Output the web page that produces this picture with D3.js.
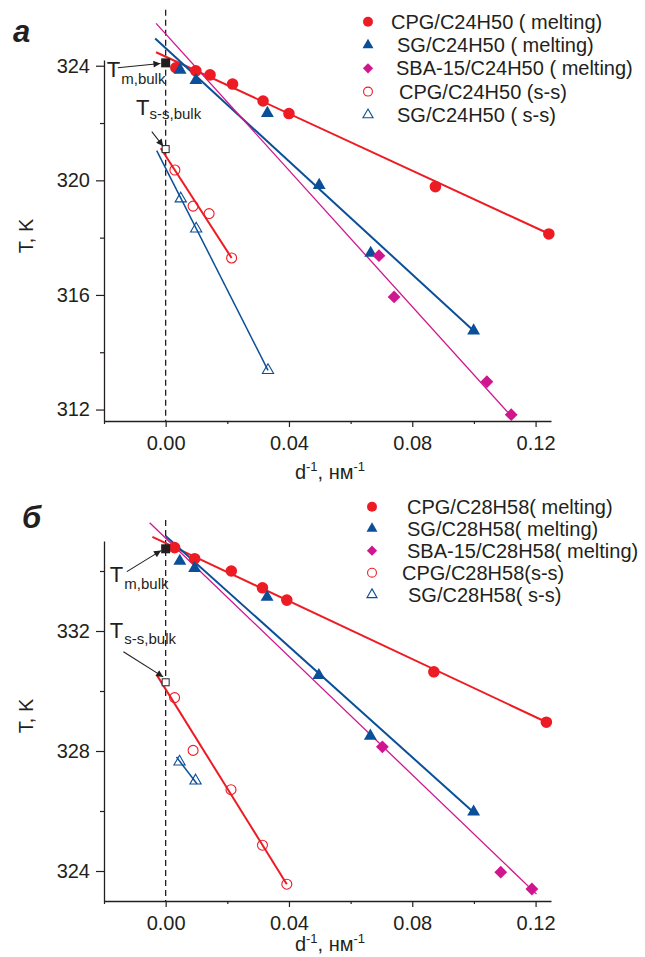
<!DOCTYPE html>
<html>
<head>
<meta charset="utf-8">
<script src="https://cdn.jsdelivr.net/npm/d3@7"></script>
<style>
body { margin: 0; background: #fff; }
svg { display: block; }
text { font-family: "Liberation Sans", Arial, sans-serif; fill: #231f20; }
</style>
</head>
<body>
<svg id="chart" width="645" height="957"></svg>
<script>
// shared x axis ticks
const xMajor = [0, 0.04, 0.08, 0.12];
const xMinor = [-0.02, 0.02, 0.06, 0.10];

// panel а : C24H50
const yMajorA = [312, 316, 320, 324];
const yMinorA = [314, 318, 322];
const cpgMeltA = [[0.0033, 323.93], [0.0098, 323.82], [0.0144, 323.68], [0.0217, 323.36], [0.0316, 322.77], [0.0400, 322.33], [0.0875, 319.78], [0.1243, 318.13]];
const sgMeltA = [[0.0047, 323.85], [0.0098, 323.49], [0.0330, 322.34], [0.0498, 319.83], [0.0665, 317.46], [0.0999, 314.75]];
const sbaMeltA = [[0.0692, 317.37], [0.0741, 315.93], [0.1042, 312.97], [0.1121, 311.82]];
const cpgSsA = [[0.0030, 320.36], [0.0089, 319.10], [0.0141, 318.84], [0.0214, 317.29]];
const sgSsA = [[0.0049, 319.36], [0.0099, 318.31], [0.0332, 313.37]];
// fitted straight lines, end points
const cpgMeltFitA = [[-0.0031, 324.47], [0.125, 318.10]];
const sgMeltFitA = [[-0.0034, 324.95], [0.1006, 314.68]];
const sbaMeltFitA = [[-0.0031, 325.48], [0.1126, 311.71]];
const cpgSsFitA = [[-0.0016, 321.12], [0.0214, 317.29]];
const sgSsFitA = [[-0.0029, 321.04], [0.0332, 313.37]];
const tmBulkA = [0, 324.10];
const tssBulkA = [0, 321.09];
const legendA = ["CPG/C24H50 ( melting)", "SG/C24H50 ( melting)", "SBA-15/C24H50 ( melting)", "CPG/C24H50 (s-s)", "SG/C24H50 ( s-s)"];

// panel б : C28H58
const yMajorB = [324, 328, 332];
const yMinorB = [326, 330, 334];
const cpgMeltB = [[0.0029, 334.78], [0.0094, 334.41], [0.0213, 334.00], [0.0314, 333.44], [0.0393, 333.03], [0.0870, 330.64], [0.1235, 328.96]];
const sgMeltB = [[0.0046, 334.33], [0.0094, 334.09], [0.0329, 333.13], [0.0497, 330.52], [0.0664, 328.50], [0.0999, 325.97]];
const sbaMeltB = [[0.0703, 328.14], [0.1087, 323.96], [0.1188, 323.40]];
const cpgSsB = [[0.0029, 329.78], [0.0089, 328.02], [0.0212, 326.71], [0.0314, 324.86], [0.0393, 323.56]];
const sgSsB = [[0.0045, 327.64], [0.0097, 327.01]];
const cpgMeltFitB = [[-0.0043, 335.14], [0.1248, 328.90]];
const sgMeltFitB = [[0.0000, 335.17], [0.1005, 325.90]];
const sbaMeltFitB = [[-0.0052, 335.61], [0.1203, 323.23]];
const cpgSsFitB = [[-0.0028, 330.52], [0.0393, 323.56]];
const sgSsFitB = [[0.0035, 327.80], [0.0102, 326.90]];
const tmBulkB = [0, 334.74];
const tssBulkB = [0, 330.29];
const legendB = ["CPG/C28H58( melting)", "SG/C28H58( melting)", "SBA-15/C28H58( melting)", "CPG/C28H58(s-s)", "SG/C28H58( s-s)"];

const red = "#ed1c24", blue = "#0b4f98", magenta = "#d0168f", ink = "#231f20";

// order = legend order
const styles = [
  {color: red, shape: "circle", filled: true, lw: 2},
  {color: blue, shape: "triangle", filled: true, lw: 2},
  {color: magenta, shape: "diamond", filled: true, lw: 1.3},
  {color: red, shape: "circle", filled: false, lw: 2},
  {color: blue, shape: "triangle", filled: false, lw: 1.5}
];

const panels = [
  {
    label: "а", labelPos: [13, 42],
    yDomain: [311.6, 324.2], yRange: [421, 60], dashTop: 325.95,
    yMajor: yMajorA, yMinor: yMinorA,
    points: [cpgMeltA, sgMeltA, sbaMeltA, cpgSsA, sgSsA],
    fits: [cpgMeltFitA, sgMeltFitA, sbaMeltFitA, cpgSsFitA, sgSsFitA],
    tm: tmBulkA, tss: tssBulkA,
    notes: [
      {sub: "m,bulk", at: [-0.0191, 323.62], subDx: 1, subDy: 7, from: [-0.0155, 323.93], to: [-0.0017, 324.08]},
      {sub: "s-s,bulk", at: [-0.0096, 322.28], subDx: 0, subDy: 4, from: [-0.0045, 321.70], to: [-0.0008, 321.19]}
    ],
    legend: legendA, legendX: 368, legendY: 21.7, legendStep: 23.3, legendTextX: [391, 397, 396, 399, 397],
    yTitle: [26, 236], xTitleY: 479
  },
  {
    label: "б", labelPos: [22, 528],
    yDomain: [323, 335], yRange: [901, 541], dashTop: 335.7,
    yMajor: yMajorB, yMinor: yMinorB,
    points: [cpgMeltB, sgMeltB, sbaMeltB, cpgSsB, sgSsB],
    fits: [cpgMeltFitB, sgMeltFitB, sbaMeltFitB, cpgSsFitB, sgSsFitB],
    tm: tmBulkB, tss: tssBulkB,
    notes: [
      {sub: "m,bulk", at: [-0.0181, 333.64], subDx: 1, subDy: 7, from: [-0.0126, 333.98], to: [-0.0015, 334.68]},
      {sub: "s-s,bulk", at: [-0.0181, 331.76], subDx: 1, subDy: 6, from: [-0.0137, 331.31], to: [-0.0008, 330.47]}
    ],
    legend: legendB, legendX: 372, legendY: 506.7, legendStep: 22, legendTextX: [407, 407, 407, 402, 408],
    yTitle: [26, 716], xTitleY: 951
  }
];

const svg = d3.select("#chart");

svg.append("defs").append("marker")
  .attr("id", "arrow")
  .attr("viewBox", "0 0 10 10")
  .attr("refX", 10).attr("refY", 5)
  .attr("markerUnits", "userSpaceOnUse")
  .attr("markerWidth", 9).attr("markerHeight", 7)
  .attr("orient", "auto")
  .append("path")
  .attr("d", "M0,0L10,5L0,10z")
  .attr("fill", ink);

const x = d3.scaleLinear().domain([-0.02, 0.125]).range([104, 551]);

function symbolFor(shape, size) {
  if (shape === "circle") return d3.symbol(d3.symbolCircle, size)();
  if (shape === "triangle") return d3.symbol(d3.symbolTriangle, size)();
  return d3.symbol(d3.symbolSquare, size)();
}

function markerSize(st, legend) {
  if (st.shape === "circle") return st.filled ? (legend ? 78 : 105) : (legend ? 62 : 78);
  if (st.shape === "triangle") return st.filled ? (legend ? 52 : 72) : (legend ? 44 : 55);
  return legend ? 52 : 82;
}

function drawMarker(g, st, cx, cy, legend) {
  const p = g.append("path")
    .attr("d", symbolFor(st.shape, markerSize(st, legend)))
    .attr("transform", "translate(" + cx + "," + cy + ")" + (st.shape === "diamond" ? " rotate(45)" : ""));
  if (st.filled) {
    p.attr("fill", st.color);
  } else {
    p.attr("fill", "none").attr("stroke", st.color).attr("stroke-width", 1.1);
  }
}

panels.forEach(panel => {
  const y = d3.scaleLinear().domain(panel.yDomain).range(panel.yRange);
  const g = svg.append("g");
  const bottom = panel.yRange[0];

  // axes
  g.append("g").attr("transform", "translate(0," + bottom + ")")
    .call(d3.axisBottom(x).tickValues(xMajor).tickFormat(d3.format(".2f")).tickSize(6).tickSizeOuter(0).tickPadding(9));
  g.append("g").attr("transform", "translate(0," + bottom + ")")
    .call(d3.axisBottom(x).tickValues(xMinor).tickFormat("").tickSize(3).tickSizeOuter(0))
    .select(".domain").remove();
  g.append("g").attr("transform", "translate(" + x.range()[0] + ",0)")
    .call(d3.axisLeft(y).tickValues(panel.yMajor).tickFormat(d3.format("d")).tickSize(8).tickSizeOuter(0).tickPadding(6));
  g.append("g").attr("transform", "translate(" + x.range()[0] + ",0)")
    .call(d3.axisLeft(y).tickValues(panel.yMinor).tickFormat("").tickSize(4).tickSizeOuter(0))
    .select(".domain").remove();

  g.selectAll(".domain").attr("stroke", ink).attr("stroke-width", 1.3);
  g.selectAll(".tick line").attr("stroke", ink).attr("stroke-width", 1.2);
  g.selectAll(".tick text").attr("font-size", 20).attr("font-family", "Liberation Sans, Arial, sans-serif").attr("fill", ink);

  // dashed line at d = 0
  g.append("line")
    .attr("x1", x(0)).attr("x2", x(0))
    .attr("y1", y(panel.dashTop)).attr("y2", bottom)
    .attr("stroke", ink).attr("stroke-width", 1.3)
    .attr("stroke-dasharray", "6,4");

  // fitted lines
  const line = d3.line().x(d => x(d[0])).y(d => y(d[1]));
  panel.fits.forEach((f, i) => {
    g.append("path").datum(f)
      .attr("d", line)
      .attr("fill", "none")
      .attr("stroke", styles[i].color)
      .attr("stroke-width", styles[i].lw);
  });

  // markers: open ones first, then circles, triangles, diamonds
  [3, 4, 0, 1, 2].forEach(i => {
    panel.points[i].forEach(d => drawMarker(g, styles[i], x(d[0]), y(d[1]), false));
  });

  // bulk values
  g.append("rect")
    .attr("x", x(panel.tm[0]) - 4.5).attr("y", y(panel.tm[1]) - 4.5)
    .attr("width", 9).attr("height", 9)
    .attr("fill", ink);
  g.append("rect")
    .attr("x", x(panel.tss[0]) - 3.5).attr("y", y(panel.tss[1]) - 3.5)
    .attr("width", 7).attr("height", 7)
    .attr("fill", "#fff").attr("stroke", ink).attr("stroke-width", 1);

  // annotations
  panel.notes.forEach(n => {
    const t = g.append("text")
      .attr("x", x(n.at[0])).attr("y", y(n.at[1]))
      .attr("font-size", 22);
    t.append("tspan").text("T");
    t.append("tspan").attr("dx", n.subDx).attr("dy", n.subDy).attr("font-size", 15).text(n.sub);
    g.append("line")
      .attr("x1", x(n.from[0])).attr("y1", y(n.from[1]))
      .attr("x2", x(n.to[0])).attr("y2", y(n.to[1]))
      .attr("stroke", ink).attr("stroke-width", 1.1)
      .attr("marker-end", "url(#arrow)");
  });

  // legend
  panel.legend.forEach((name, i) => {
    const ly = panel.legendY + i * panel.legendStep;
    drawMarker(g, styles[i], panel.legendX, ly, true);
    g.append("text")
      .attr("x", panel.legendTextX[i]).attr("y", ly)
      .attr("dy", "0.35em")
      .attr("font-size", 20)
      .text(name);
  });

  // panel letter
  g.append("text")
    .attr("x", panel.labelPos[0]).attr("y", panel.labelPos[1])
    .attr("font-family", "Liberation Serif, Times New Roman, serif")
    .attr("font-style", "italic").attr("font-weight", "bold")
    .attr("font-size", 31)
    .text(panel.label);

  // axis titles
  g.append("text")
    .attr("transform", "translate(" + panel.yTitle[0] + "," + panel.yTitle[1] + ") rotate(-90)")
    .attr("text-anchor", "middle").attr("dy", "0.35em")
    .attr("font-size", 20)
    .text("T, K");

  const xt = g.append("text")
    .attr("x", 330).attr("y", panel.xTitleY)
    .attr("text-anchor", "middle")
    .attr("font-size", 20);
  xt.append("tspan").text("d");
  xt.append("tspan").attr("dy", -8).attr("font-size", 13).text("-1");
  xt.append("tspan").attr("dy", 8).text(", нм");
  xt.append("tspan").attr("dy", -8).attr("font-size", 13).text("-1");
});
</script>
</body>
</html>
